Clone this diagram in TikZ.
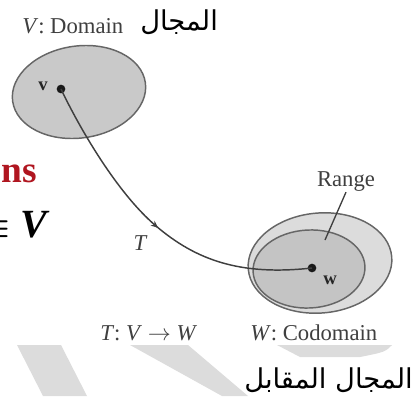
\documentclass[tikz,border=0pt]{standalone}
\usepackage{fontspec}
\setmainfont{Liberation Serif}
\newfontfamily\arabicfont[Script=Arabic]{DejaVu Sans}
\TeXXeTstate=1
\usetikzlibrary{decorations.markings,arrows.meta}
\definecolor{wm}{HTML}{DCDCDC}
\definecolor{ink}{HTML}{3F3F3F}
\definecolor{edge}{HTML}{666666}
\definecolor{domfill}{HTML}{C9C9C9}
\definecolor{codfill}{HTML}{DCDCDC}
\definecolor{rngfill}{HTML}{C4C4C4}
\definecolor{titlered}{RGB}{176,22,32}
\begin{document}
\begin{tikzpicture}[x=0.75pt,y=-0.75pt,
  lbl/.style={font=\fontsize{17}{19}\selectfont, text=ink, inner sep=0pt},
  smalllbl/.style={font=\bfseries\fontsize{14}{15}\selectfont, text=black!85, inner sep=0pt},
  ar/.style={font=\arabicfont\fontsize{20.5}{24}\selectfont, text=black, inner sep=0pt},
  setshape/.style={draw=edge, line width=1.1pt},
  dotnode/.style={circle, fill=black!90, inner sep=0pt, minimum size=6.5pt},
  mapcurve/.style={draw=ink, line width=1.1pt,
    postaction={decorate},
    decoration={markings, mark=at position 0.51 with {\arrow{Stealth[length=5.5pt,width=4.5pt]}}}},
  pointer/.style={draw=ink, line width=1pt}]
\useasboundingbox (0,0) rectangle (416,396);
\clip (0,0) rectangle (416,396);
% watermark
\fill[wm] (17,345) -- (61,345) -- (87,396) -- (43,396) -- cycle;
\fill[wm] (130,345) -- (188,345) -- (248,396) -- (222,396) -- cycle;
\fill[wm] (277,345) -- (392,345) .. controls (385,352) .. (360,357) -- (300,357) -- cycle;
% sets
\draw[setshape, fill=domfill, rotate around={8:(79,92)}] (79,92) ellipse (67 and 46);
\draw[setshape, fill=codfill, rotate around={5:(320,263)}] (320,263) ellipse (72 and 50);
\draw[setshape, fill=rngfill, rotate around={3:(309,269)}] (309,269) ellipse (56 and 39);
% points
\node[dotnode] (vdot) at (61,89) {};
\node[smalllbl] (vlab) at (43,86) {v};
\node[dotnode] (wdot) at (312,268) {};
\node[smalllbl] (wlab) at (330,280) {w};
% mapping curve
\draw[mapcurve] (vdot.center) .. controls (78,125) and (116,192) .. (156,226)
  .. controls (196,260) and (240,276) .. (wdot.center);
\node[lbl, font=\itshape\fontsize{17}{19}\selectfont] (tlab) at (140,243) {T};
% range
\node[lbl] (range) at (346,182) {Range};
\coordinate (rangept) at (325,240);
\draw[pointer] (range.south) -- (rangept);
% labels
\node[lbl, anchor=base west] (vdomain) at (22,33) {\textit{V}: Domain};
\node[ar, anchor=base west] (ardom) at (140,30) {\beginR المجال\endR};
\node[lbl, anchor=base west] (tmap) at (100,340) {\textit{T}: \textit{V} $\rightarrow$ \textit{W}};
\node[lbl, anchor=base west] (wcod) at (250,340) {\textit{W}: Codomain};
\node[ar, anchor=base east] (arcod) at (413,388) {\beginR المجال المقابل\endR};
% title fragments
\node[anchor=base east, text=titlered, font=\bfseries\fontsize{28}{30}\selectfont, inner sep=0pt] (title) at (37,182) {ns};
\node[anchor=base east, font=\fontsize{30}{32}\selectfont, inner sep=0pt] (eqv) at (50,237) {{\boldmath$\equiv$} \textbf{\textit{V}}};
\end{tikzpicture}
\end{document}
